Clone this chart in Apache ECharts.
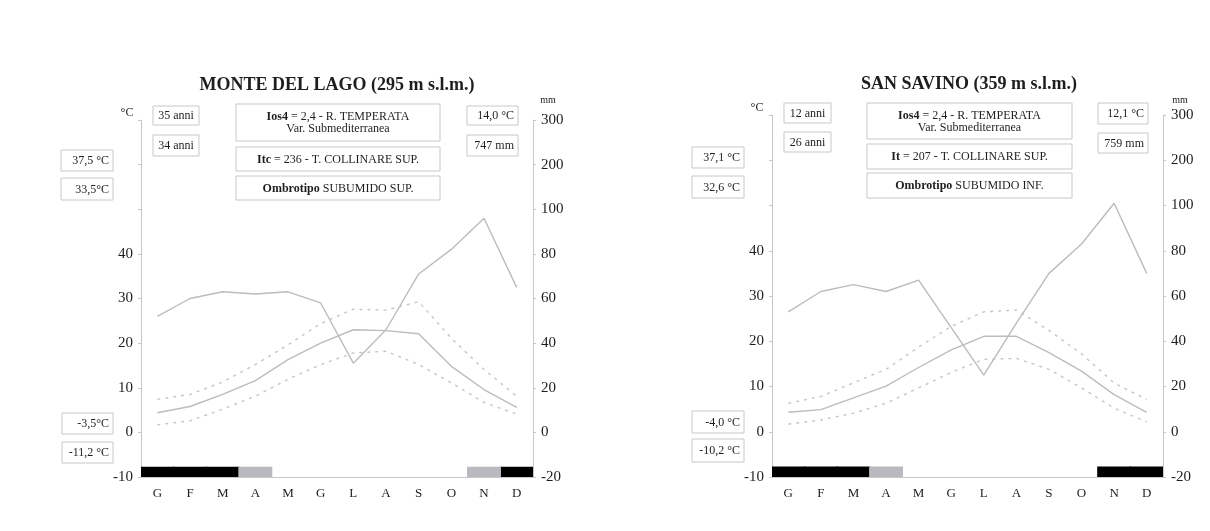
<!DOCTYPE html>
<html>
<head>
<meta charset="utf-8">
<script src="https://cdn.jsdelivr.net/npm/echarts@6/dist/echarts.min.js"></script>
<style>
html,body{margin:0;padding:0;background:#fff;}
#chart{width:1210px;height:531px;}
</style>
</head>
<body>
<div id="chart"></div>
<script>
// ---------- DATA ----------
const months = ['G','F','M','A','M','G','L','A','S','O','N','D'];
const tempTicksShown = [-10, 0, 10, 20, 30, 40];
const mmTickLabels = {'-20':'-20','0':'0','20':'20','40':'40','60':'60','80':'80','100':'100','120':'200','140':'300'};

// Monte del Lago
const mdlTitle = 'MONTE DEL LAGO (295 m s.l.m.)';
const mdlPrecip = [52, 60, 63, 62, 63, 58, 31, 46, 71, 82, 96, 65];
const mdlTmean  = [4.4, 5.8, 8.5, 11.6, 16.3, 20.0, 23.0, 22.8, 22.1, 14.8, 9.6, 5.6];
const mdlTmax   = [7.4, 8.5, 11.3, 15.2, 19.6, 24.4, 27.6, 27.4, 29.3, 21.1, 14.1, 8.1];
const mdlTmin   = [1.7, 2.6, 5.2, 8.1, 11.9, 15.2, 17.8, 18.2, 15.2, 11.1, 6.7, 4.1];
const mdlFrostCertain  = [1,1,1,0,0,0,0,0,0,0,0,1];
const mdlFrostProbable = [0,0,0,1,0,0,0,0,0,0,1,0];
const mdlYears = ['35 anni', '34 anni'];
const mdlMeans = ['14,0 °C', '747 mm'];
const mdlHigh  = ['37,5 °C', '33,5°C'];
const mdlLow   = ['-3,5°C', '-11,2 °C'];
const mdlIndex = ['{b|Ios4} = 2,4 - R. TEMPERATA', 'Var. Submediterranea', '{b|Itc} = 236 - T. COLLINARE SUP.', '{b|Ombrotipo} SUBUMIDO SUP.'];

// San Savino
const ssTitle = 'SAN SAVINO (359 m s.l.m.)';
const ssPrecip = [53, 62, 65, 62, 67, 46, 25, 48, 70, 83, 101, 70];
const ssTmean  = [4.3, 4.9, 7.5, 10.1, 14.2, 18.1, 21.1, 21.1, 17.5, 13.4, 8.2, 4.3];
const ssTmax   = [6.3, 7.8, 10.8, 13.8, 18.7, 23.3, 26.5, 26.9, 22.4, 17.2, 10.8, 7.1];
const ssTmin   = [1.7, 2.6, 4.1, 6.3, 9.7, 13.1, 16.0, 16.2, 13.8, 9.7, 5.2, 2.2];
const ssFrostCertain  = [1,1,1,0,0,0,0,0,0,0,1,1];
const ssFrostProbable = [0,0,0,1,0,0,0,0,0,0,0,0];
const ssYears = ['12 anni', '26 anni'];
const ssMeans = ['12,1 °C', '759 mm'];
const ssHigh  = ['37,1 °C', '32,6 °C'];
const ssLow   = ['-4,0 °C', '-10,2 °C'];
const ssIndex = ['{b|Ios4} = 2,4 - R. TEMPERATA', 'Var. Submediterranea', '{b|It} = 207 - T. COLLINARE SUP.', '{b|Ombrotipo} SUBUMIDO INF.'];

// ---------- STYLE / LAYOUT ----------
const SERIF = '"Liberation Serif", "DejaVu Serif", serif';
const LINE = '#bcbcbc';
const DASH = '#c6c6c6';
const AXIS = '#c8c8c8';
const TXT = '#1e1e1e';
const FROST_H = 2.3;

const grids = [
  {left:141, right:677, top:120, bottom:54},
  {left:772, right:47, top:115, bottom:54}
];

const chart = echarts.init(document.getElementById('chart'), null, {renderer:'canvas'});

const xAxes = [], yAxes = [], series = [];
const stations = [
  {precip:mdlPrecip, tmean:mdlTmean, tmax:mdlTmax, tmin:mdlTmin, fc:mdlFrostCertain, fp:mdlFrostProbable},
  {precip:ssPrecip, tmean:ssTmean, tmax:ssTmax, tmin:ssTmin, fc:ssFrostCertain, fp:ssFrostProbable}
];

stations.forEach((s, i) => {
  xAxes.push({
    type:'category', gridIndex:i, data:months, boundaryGap:true,
    axisLine:{onZero:false, lineStyle:{color:AXIS, width:1}},
    axisTick:{show:false},
    axisLabel:{color:TXT, fontFamily:SERIF, fontSize:13, margin:10}
  });
  // temperature axis (left)
  yAxes.push({
    type:'value', gridIndex:i, position:'left', min:-10, max:70, interval:10,
    axisLine:{show:true, onZero:false, lineStyle:{color:AXIS}},
    axisTick:{show:true, length:3, lineStyle:{color:AXIS}},
    splitLine:{show:false},
    axisLabel:{color:TXT, fontFamily:SERIF, fontSize:15, margin:8,
      formatter:v => tempTicksShown.indexOf(v) >= 0 ? String(v) : ''}
  });
  // precipitation axis (right)
  yAxes.push({
    type:'value', gridIndex:i, position:'right', min:-20, max:140, interval:20,
    axisLine:{show:true, onZero:false, lineStyle:{color:AXIS}},
    axisTick:{show:true, length:3, lineStyle:{color:AXIS}},
    splitLine:{show:false},
    axisLabel:{color:TXT, fontFamily:SERIF, fontSize:15, margin:8,
      formatter:v => mmTickLabels[String(v)] || ''}
  });
  // hidden axis for frost bars
  yAxes.push({
    type:'value', gridIndex:i, min:0, max:80, show:false
  });
  const base = i*3;
  series.push({
    type:'bar', xAxisIndex:i, yAxisIndex:base+2, barWidth:'104%', barGap:'-100%',
    data:s.fc.map(f => f ? FROST_H : null),
    itemStyle:{color:'#000'}, silent:true
  });
  series.push({
    type:'bar', xAxisIndex:i, yAxisIndex:base+2, barWidth:'104%', barGap:'-100%',
    data:s.fp.map(f => f ? FROST_H : null),
    itemStyle:{color:'#b9b9bf'}, silent:true
  });
  series.push({
    type:'line', xAxisIndex:i, yAxisIndex:base+1, data:s.precip, showSymbol:false, symbol:'none',
    lineStyle:{color:LINE, width:1.4}, z:3
  });
  series.push({
    type:'line', xAxisIndex:i, yAxisIndex:base, data:s.tmean, showSymbol:false, symbol:'none',
    lineStyle:{color:LINE, width:1.4}, z:3
  });
  series.push({
    type:'line', xAxisIndex:i, yAxisIndex:base, data:s.tmax, showSymbol:false, symbol:'none',
    lineStyle:{color:DASH, width:1.4, type:[3,5]}, z:3
  });
  series.push({
    type:'line', xAxisIndex:i, yAxisIndex:base, data:s.tmin, showSymbol:false, symbol:'none',
    lineStyle:{color:DASH, width:1.4, type:[3,5]}, z:3
  });
});

// ---------- TEXT BOXES ----------
const graphics = [];
function box(x, y, w, h, lines, align) {
  graphics.push({type:'rect', shape:{x:x, y:y, width:w, height:h}, z:10,
    style:{fill:'#fff', stroke:AXIS, lineWidth:1}});
  let tx = x + w/2;
  if (align === 'right') tx = x + w - 4;
  if (align === 'left') tx = x + 4;
  graphics.push({type:'text', x:tx, y:y + h/2 + 0.5, z:11,
    style:{text:lines.join('\n'), fill:TXT, fontFamily:'Liberation Serif', fontSize:12,
      align:align || 'center', textAlign:align || 'center', verticalAlign:'middle', textVerticalAlign:'middle',
      lineHeight:12,
      rich:{b:{fontWeight:'bold', fontFamily:'Liberation Serif', fontSize:12, fill:TXT, lineHeight:12}}}});
}
function text(x, y, t, size, weight, align) {
  graphics.push({type:'text', x:x, y:y, z:11,
    style:{text:t, fill:TXT, fontFamily:'Liberation Serif', fontSize:size, fontWeight:weight || 'normal',
      align:align || 'center', textAlign:align || 'center', verticalAlign:'middle', textVerticalAlign:'middle'}});
}

// Monte del Lago
text(337, 85, mdlTitle, 18, 'bold');
text(127, 113, '°C', 12);
text(548, 100, 'mm', 10);
box(153, 106, 46, 19, [mdlYears[0]], 'center');
box(153, 135, 46, 21, [mdlYears[1]], 'center');
box(236, 104, 204, 37, [mdlIndex[0], mdlIndex[1]], 'center');
box(236, 147, 204, 24, [mdlIndex[2]], 'center');
box(236, 176, 204, 24, [mdlIndex[3]], 'center');
box(467, 106, 51, 19, [mdlMeans[0]], 'right');
box(467, 135, 51, 21, [mdlMeans[1]], 'right');
box(61, 150, 52, 21, [mdlHigh[0]], 'right');
box(61, 178, 52, 22, [mdlHigh[1]], 'right');
box(62, 413, 51, 21, [mdlLow[0]], 'right');
box(62, 442, 51, 21, [mdlLow[1]], 'right');

// San Savino
text(969, 84, ssTitle, 18, 'bold');
text(757, 108, '°C', 12);
text(1180, 100, 'mm', 10);
box(784, 103, 47, 20, [ssYears[0]], 'center');
box(784, 132, 47, 20, [ssYears[1]], 'center');
box(867, 103, 205, 36, [ssIndex[0], ssIndex[1]], 'center');
box(867, 144, 205, 25, [ssIndex[2]], 'center');
box(867, 173, 205, 25, [ssIndex[3]], 'center');
box(1098, 103, 50, 21, [ssMeans[0]], 'right');
box(1098, 133, 50, 20, [ssMeans[1]], 'right');
box(692, 147, 52, 21, [ssHigh[0]], 'right');
box(692, 176, 52, 22, [ssHigh[1]], 'right');
box(692, 411, 52, 22, [ssLow[0]], 'right');
box(692, 439, 52, 23, [ssLow[1]], 'right');

chart.setOption({
  backgroundColor:'#fff',
  animation:false,
  grid:grids,
  xAxis:xAxes,
  yAxis:yAxes,
  series:series,
  graphic:{elements:graphics}
});
</script>
</body>
</html>
